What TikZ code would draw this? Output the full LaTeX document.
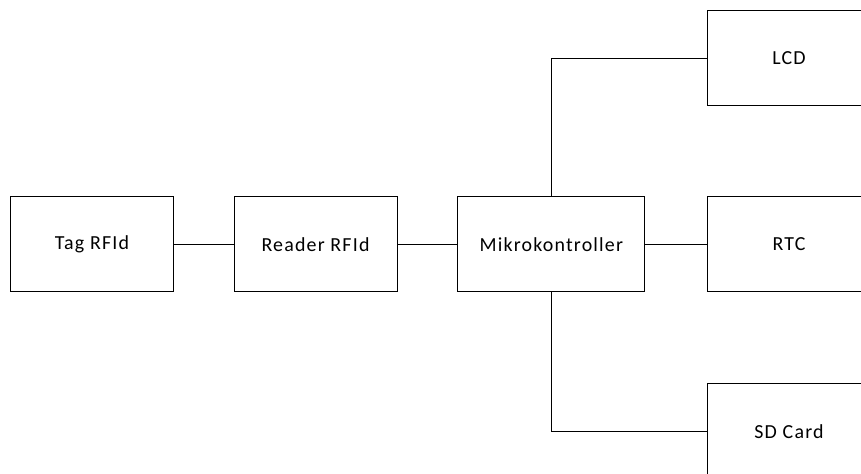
\documentclass[tikz,border=0pt]{standalone}
\usepackage{fontspec}
\setmainfont[LetterSpace=6]{Carlito}
\usetikzlibrary{positioning}
\tikzset{
  blok/.style={rectangle,draw=black,line width=1bp,inner sep=0pt,
    minimum height=95bp,align=center,font=\fontsize{20}{24}\selectfont},
  garis/.style={line width=1bp}
}

\begin{document}
\begin{tikzpicture}[x=1bp,y=-1bp]
  \useasboundingbox (0,0) rectangle (861,474);
  \clip (0,0) rectangle (861,474);
  % baris tengah
  \node[blok,minimum width=162bp] (tag) at (92,244.5) {Tag RFId};
  \node[blok,minimum width=163bp] (reader) at (315.5,244.5) {Reader RFId};
  \node[blok,minimum width=187bp] (mikro) at (551.3,244.5) {Mikrokontroller};
  % keluaran
  \node[blok,minimum width=164bp] (lcd) at (789,58.3) {LCD};
  \node[blok,minimum width=164bp] (rtc) at (789,244.5) {RTC};
  \node[blok,minimum width=164bp] (sd) at (789,431.5) {SD Card};
  \draw[garis] (tag) -- (reader);
  \draw[garis] (reader) -- (mikro);
  \draw[garis] (mikro) -- (rtc);
  \draw[garis] (mikro.north) |- (lcd.west);
  \draw[garis] (mikro.south) |- (sd.west);
\end{tikzpicture}
\end{document}
